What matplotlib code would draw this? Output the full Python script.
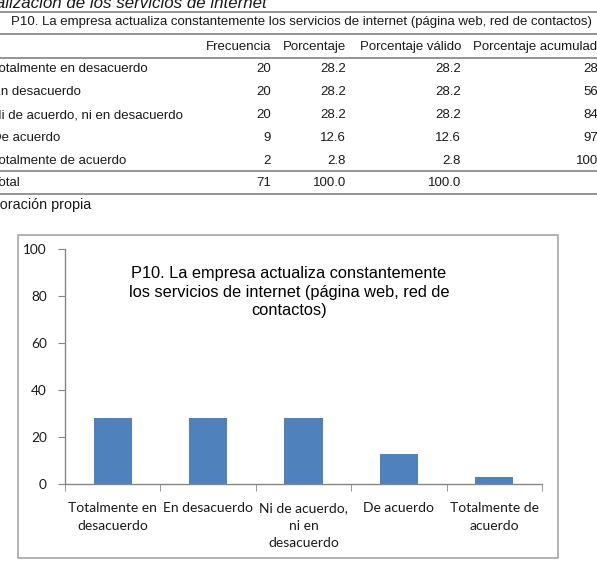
import matplotlib
matplotlib.use("Agg")
from matplotlib import pyplot as plt
from matplotlib.patches import Rectangle
from matplotlib.lines import Line2D

# Datos de la tabla P10
categorias = ["Totalmente en desacuerdo", "En desacuerdo", "Ni de acuerdo, ni en desacuerdo",
              "De acuerdo", "Totalmente de acuerdo"]
frecuencia = [20, 20, 20, 9, 2]
porcentaje = [28.2, 28.2, 28.2, 12.6, 2.8]
valido = [28.2, 28.2, 28.2, 12.6, 2.8]
acumulado = [28.2, 56.3, 84.5, 97.2, 100.0]
total = [71, 100.0, 100.0]
encabezados = ["Frecuencia", "Porcentaje", "Porcentaje válido", "Porcentaje acumulado"]
etiquetas_x = ["Totalmente en\ndesacuerdo", "En desacuerdo", "Ni de acuerdo,\nni en\ndesacuerdo",
               "De acuerdo", "Totalmente de\nacuerdo"]
titulo = "P10. La empresa actualiza constantemente los servicios de internet (página web, red de contactos)"
titulo_graf = "P10. La empresa actualiza constantemente\nlos servicios de internet (página web, red de\ncontactos)"

W, H = 597, 566
fig = plt.figure(figsize=(W / 100, H / 100), dpi=100)


def fx(x):
    return x / W


def fy(y):
    return 1 - y / H


def linea(y, color="#8c8c8c", lw=1.3):
    fig.add_artist(Line2D([0, 1], [fy(y), fy(y)], color=color, lw=lw, transform=fig.transFigure))


tab_font = dict(family="Liberation Sans", fontsize=9.5, color="#1a1a1a")

# ---- Tabla ----
fig.text(fx(268), fy(3), "Actualización de los servicios de internet", ha="right", va="center",
         family="Liberation Sans", fontsize=12.2, style="italic", color="#1a1a1a")
linea(11.5)
fig.text(fx(301), fy(22.5), titulo, ha="center", va="center", **tab_font)
linea(33.5)

col_x = [271, 346, 461, 609]
for cx, h in zip(col_x[:3] + [604], encabezados):
    fig.text(fx(cx), fy(47), h, ha="right", va="center", **tab_font)
linea(58)

filas_y = [69, 92, 115, 138, 161]
for i, yy in enumerate(filas_y):
    fig.text(fx(-7.5), fy(yy), categorias[i], ha="left", va="center", **tab_font)
    vals = [str(frecuencia[i]), "%.1f" % porcentaje[i], "%.1f" % valido[i], "%.1f" % acumulado[i]]
    for cx, v in zip(col_x, vals):
        fig.text(fx(cx), fy(yy), v, ha="right", va="center", **tab_font)
linea(171.5)
fig.text(fx(-7.5), fy(183), "Total", ha="left", va="center", **tab_font)
for cx, v in zip(col_x[:3], [str(total[0]), "%.1f" % total[1], "%.1f" % total[2]]):
    fig.text(fx(cx), fy(183), v, ha="right", va="center", **tab_font)
linea(194)
fig.text(fx(-29), fy(205), "Elaboración propia", ha="left", va="center",
         family="Liberation Sans", fontsize=10.4, color="#1a1a1a")

# ---- Grafico ----
fig.add_artist(Rectangle((fx(18), fy(558)), fx(558) - fx(18), fy(235) - fy(558),
                         fill=False, edgecolor="#a6a6a6", lw=1.2, transform=fig.transFigure))

ax = fig.add_axes([fx(65), fy(484), fx(542) - fx(65), fy(249) - fy(484)])
pos = list(range(len(porcentaje)))
ax.bar(pos, porcentaje, width=0.4, color="#4f81bd")
ax.set_xlim(-0.5, len(porcentaje) - 0.5)
ax.set_ylim(0, 100)
ax.set_yticks([0, 20, 40, 60, 80, 100])

for s in ["top", "right"]:
    ax.spines[s].set_visible(False)
for s in ["left", "bottom"]:
    ax.spines[s].set_color("#868686")
    ax.spines[s].set_linewidth(1)

ax.set_xticks(pos)
ax.set_xticklabels(etiquetas_x, family="Lato", fontsize=10, linespacing=1.55, color="#1a1a1a")
ax.tick_params(axis="x", length=0, pad=13)
ax.set_xticks([p - 0.5 for p in pos] + [len(pos) - 0.5], minor=True)
ax.tick_params(axis="x", which="minor", length=5, color="#868686", direction="out")
ax.tick_params(axis="y", length=5, color="#868686", pad=8, labelsize=9.8, labelcolor="#1a1a1a")
for t in ax.get_yticklabels():
    t.set_family("Lato")

fig.text(fx(289), fy(292), titulo_graf, ha="center", va="center", multialignment="center",
         family="Liberation Sans", fontsize=11.8, color="#000000", linespacing=1.3)

fig.savefig("out.png", dpi=100)
